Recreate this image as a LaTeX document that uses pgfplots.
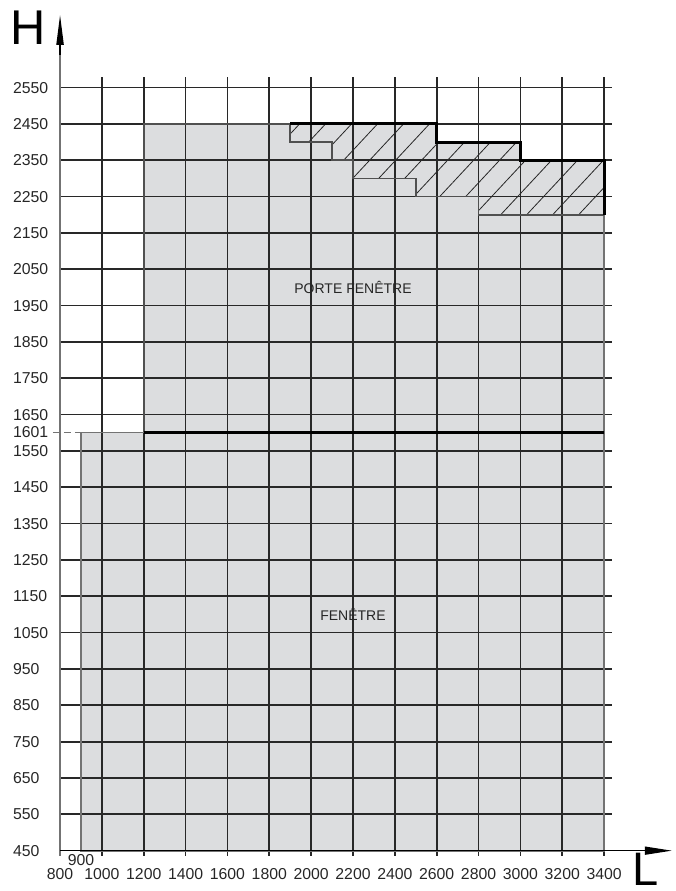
\documentclass[border=0pt]{standalone}
\usepackage{pgfplots}
\pgfplotsset{compat=1.18}
\usepackage{fontspec}
\setmainfont{Liberation Sans}
\usetikzlibrary{arrows.meta,patterns.meta}

\definecolor{zone}{RGB}{220,221,223}
\definecolor{grille}{RGB}{40,40,40}
\definecolor{bord}{RGB}{115,115,115}
\definecolor{bordfonce}{RGB}{80,80,80}

\begin{document}
\begin{tikzpicture}
\begin{axis}[
  scale only axis, width=272pt, height=381.5pt,
  xmin=800, xmax=3400, ymin=450, ymax=2550,
  clip=false, no markers,
  axis line style={draw=none},
  major tick length=0pt,
  xtick={800,1000,...,3400},
  ytick={450,550,...,2550},
  extra x ticks={900},
  extra x tick style={xticklabel style={yshift=6.9pt}},
  extra y ticks={1601},
  ticklabel style={font=\fontsize{7.9}{9}\selectfont, text=black!85,
    /pgf/number format/assume math mode=true,
    /pgf/number format/1000 sep={}},
  xticklabel style={yshift=-5.4pt},
  yticklabel style={anchor=west, xshift=-27pt},
]
% surfaces
\addplot[fill=zone, draw=none] coordinates {
  (900,450) (3400,450) (3400,1601) (900,1601)} -- cycle;
\addplot[fill=zone, draw=none] coordinates {
  (1200,1601) (3400,1601) (3400,2350) (3000,2350) (3000,2400)
  (2600,2400) (2600,2450) (1200,2450)} -- cycle;
% zone hachuree
\addplot[draw=none, pattern={Lines[angle=47, distance=9.5pt, line width=0.4pt]},
  pattern color=black!85] coordinates {
  (1900,2450) (2600,2450) (2600,2400) (3000,2400) (3000,2350) (3400,2350)
  (3400,2200) (2800,2200) (2800,2250) (2500,2250) (2500,2300) (2200,2300)
  (2200,2350) (2100,2350) (2100,2400) (1900,2400)} -- cycle;

% quadrillage
\pgfplotsinvokeforeach{1000,1200,...,3400}{
  \draw[grille, line width=0.85pt] (axis cs:#1,436) -- (axis cs:#1,2579);
}
\pgfplotsinvokeforeach{550,650,...,2550}{
  \draw[grille, line width=0.85pt] (axis cs:800,#1) -- (axis cs:3440,#1);
}

% contours
\addplot[bord, line width=0.9pt] coordinates {
  (1200,1601) (900,1601) (900,450) (3400,450) (3400,1601)};
\addplot[bordfonce, line width=0.9pt] coordinates {
  (1200,1601) (1200,2450) (1900,2450)};
\addplot[bord, line width=0.9pt] coordinates {(3400,1601) (3400,2200)};
\addplot[bordfonce, line width=0.8pt] coordinates {
  (1900,2450) (1900,2400) (2100,2400) (2100,2350) (2200,2350) (2200,2300)
  (2500,2300) (2500,2250) (2800,2250) (2800,2200) (3400,2200)};
\addplot[black, line width=1.5pt] coordinates {
  (1900,2450) (2600,2450) (2600,2400) (3000,2400) (3000,2350)
  (3400,2350) (3400,2200)};
\addplot[black, line width=1.5pt] coordinates {(1200,1601) (3400,1601)};

% axes
\draw[bord, line width=0.7pt] (axis cs:800,436) -- (axis cs:800,2680);
\draw[black, line width=0.7pt, -{Triangle[length=15pt, width=3.6pt]}]
  (axis cs:800,2640) -- (axis cs:800,2750);
\draw[black, line width=0.7pt, -{Triangle[length=13.5pt, width=4pt]}]
  (axis cs:800,450) -- (axis cs:3724,450);
\draw[bord, line width=0.7pt, dash pattern=on 3.5pt off 2pt]
  (axis cs:766,1601) -- (axis cs:900,1601);

% textes
\node[font=\fontsize{7}{8}\selectfont, text=black!85] at (axis cs:2200,2000) {PORTE FENÊTRE};
\node[font=\fontsize{7}{8}\selectfont, text=black!85] at (axis cs:2200,1100) {FENÊTRE};
\node[font=\fontsize{24.4}{25}\selectfont, anchor=base, inner sep=0pt] at (axis cs:647,2668) {H};
\node[font=\fontsize{23.5}{25}\selectfont, anchor=base west, inner sep=0pt] at (axis cs:3532,355) {L};

% cadre de la page
\path (axis cs:513,2791) rectangle (axis cs:3739,339);
\end{axis}
\end{tikzpicture}
\end{document}
